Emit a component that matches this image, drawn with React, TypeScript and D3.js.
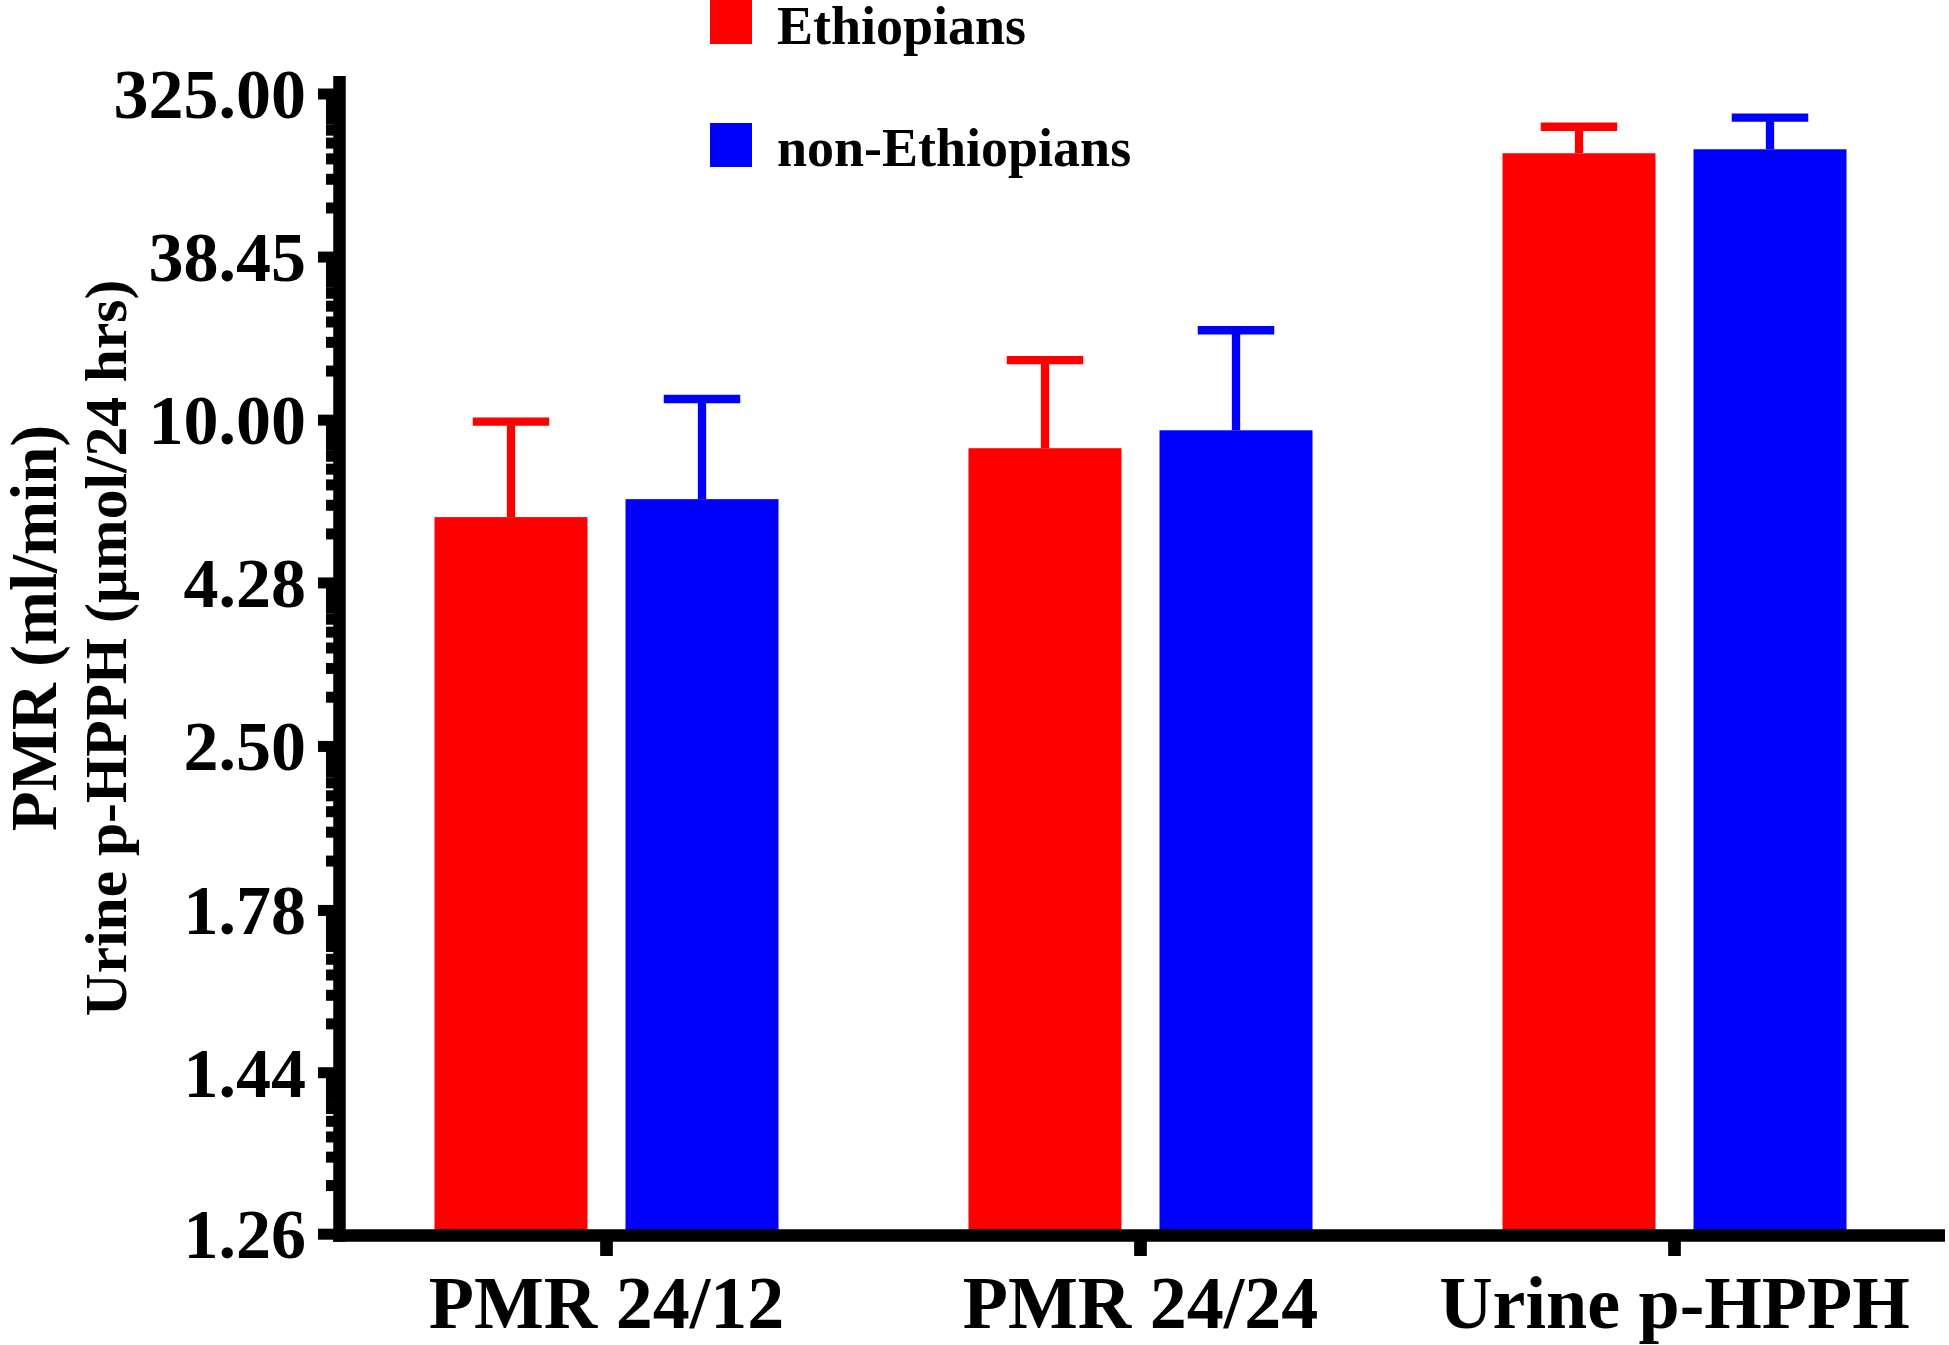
import React from "react";
import * as d3 from "d3";

const categories = ["PMR 24/12", "PMR 24/24", "Urine p-HPPH"];
const seriesNames = ["Ethiopians", "non-Ethiopians"];
const seriesColors = ["#FF0000", "#0000FF"];
const ethiopianMeans = [5.76, 8.39, 133.3];
const ethiopianSD = [4.15, 6.91, 61.7];
const nonEthiopianMeans = [6.31, 9.37, 140.9];
const nonEthiopianSD = [5.21, 10.08, 83.1];
const yTickLabels = ["1.26", "1.44", "1.78", "2.50", "4.28", "10.00", "38.45", "325.00"];
const yTitleLines = ["PMR (ml/min)", "Urine p-HPPH (µmol/24 hrs)"];

const W = 1949;
const H = 1345;
const FONT = "'Liberation Serif', 'Times New Roman', Times, serif";

// Axis on log10(log10(value)) — a log scale applied to log10 of value
const yInner = d3.scaleLog().domain([0.1, Math.pow(10, 0.4)]).range([1235.5, 94]);
const y = (v: number) => yInner(Math.log10(v));

const x0 = d3.scaleBand<string>().domain(categories).range([339.5, 1941.5]).paddingInner(0).paddingOuter(0);
const x1 = d3.scaleBand<string>().domain(seriesNames).range([95, 439]).paddingInner(0.199);

const means = [ethiopianMeans, nonEthiopianMeans];
const sds = [ethiopianSD, nonEthiopianSD];

export default function App() {
  const majorPos = yTickLabels.map((l) => y(parseFloat(l)));
  const minorPos: number[] = [];
  for (let i = 0; i < majorPos.length - 1; i++) {
    const a = majorPos[i];
    const b = majorPos[i + 1];
    for (let m = 2; m <= 9; m++) minorPos.push(a + (b - a) * Math.log10(m));
  }
  const axisX = 339.5;
  const axisY = 1235.5;
  return (
    <>
      <style>{`body{margin:0;}`}</style>
      <svg width={W} height={H} style={{ display: "block" }} fontFamily={FONT} fontWeight="bold">
        <rect width={W} height={H} fill="#fff" />
        {/* bars */}
        {categories.map((c, ci) =>
          seriesNames.map((s, si) => {
            const bx = (x0(c) as number) + (x1(s) as number);
            const bw = x1.bandwidth();
            const top = y(means[si][ci]);
            const upper = y(means[si][ci] + sds[si][ci]);
            const cx = bx + bw / 2;
            return (
              <g key={c + s}>
                <rect x={bx} y={top} width={bw} height={axisY - top} fill={seriesColors[si]} />
                <line x1={cx} x2={cx} y1={top} y2={upper} stroke={seriesColors[si]} strokeWidth={8.3} />
                <line x1={cx - bw / 4} x2={cx + bw / 4} y1={upper} y2={upper} stroke={seriesColors[si]} strokeWidth={8.3} />
              </g>
            );
          })
        )}
        {/* y axis minor ticks */}
        {minorPos.map((p, i) => (
          <line key={"mn" + i} x1={326} x2={axisX} y1={p} y2={p} stroke="#000" strokeWidth={11} />
        ))}
        {/* y axis major ticks */}
        {majorPos.map((p, i) => (
          <line key={"mj" + i} x1={318} x2={axisX} y1={p} y2={p} stroke="#000" strokeWidth={11} />
        ))}
        {yTickLabels.map((l, i) => (
          <text key={"yl" + i} x={306} y={majorPos[i]} dy="0.34em" textAnchor="end" fontSize={70} fill="#000">
            {l}
          </text>
        ))}
        {/* axes lines */}
        <line x1={axisX} x2={axisX} y1={76} y2={axisY + 6.2} stroke="#000" strokeWidth={12.5} />
        <line x1={axisX - 6.2} x2={1945} y1={axisY} y2={axisY} stroke="#000" strokeWidth={12.4} />
        {/* x ticks and labels */}
        {categories.map((c) => {
          const cx = (x0(c) as number) + x0.bandwidth() / 2;
          return (
            <g key={"xt" + c}>
              <line x1={cx} x2={cx} y1={axisY} y2={1256} stroke="#000" strokeWidth={12.7} />
              <text x={cx} y={1328} textAnchor="middle" fontSize={74} fill="#000">
                {c}
              </text>
            </g>
          );
        })}
        {/* y titles */}
        <text transform={`translate(56,628) rotate(-90)`} textAnchor="middle" fontSize={65} fill="#000">
          {yTitleLines[0]}
        </text>
        <text transform={`translate(126,648) rotate(-90)`} textAnchor="middle" fontSize={59.5} fill="#000">
          {yTitleLines[1]}
        </text>
        {/* legend */}
        {seriesNames.map((s, i) => (
          <g key={"lg" + s}>
            <rect x={710} y={i * 123} width={42} height={44} fill={seriesColors[i]} />
            <text x={777} y={44 + i * 122} fontSize={54} fill="#000">
              {s}
            </text>
          </g>
        ))}
      </svg>
    </>
  );
}
